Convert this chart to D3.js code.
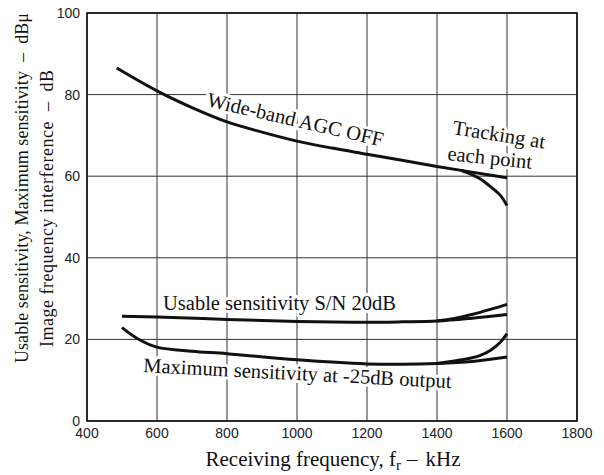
<!DOCTYPE html>
<html>
<head>
<meta charset="utf-8">
<script src="https://cdn.jsdelivr.net/npm/d3@7"></script>
<style>
  body { margin: 0; background: #fff; overflow: hidden; }
  svg { display: block; }
  .tick-label { font-family: "Liberation Sans", Arial, sans-serif; font-size: 14px; fill: #222; }
  .serif { font-family: "Liberation Serif", "Times New Roman", serif; fill: #111; }
  .halo { paint-order: stroke; stroke: #fff; stroke-width: 6px; stroke-linejoin: round; }
</style>
</head>
<body>
<div id="chart"></div>
<script>
const xTicks = [400, 600, 800, 1000, 1200, 1400, 1600, 1800];
const yTicks = [0, 20, 40, 60, 80, 100];

// [frequency kHz, level dB]
const agcOff = [[485, 86.5], [600, 80.9], [700, 76.8], [800, 73.3], [900, 70.8], [1000, 68.6],
    [1100, 66.9], [1200, 65.4], [1300, 63.9], [1400, 62.4], [1500, 61.0], [1600, 59.6]];
const agcTracking = [[1470, 61.4], [1500, 60.4], [1524, 59.3], [1552, 57.5], [1581, 55.3], [1600, 52.8]];
const usable = [[500, 25.7], [600, 25.5], [800, 24.9], [1000, 24.4], [1200, 24.2], [1300, 24.3],
    [1400, 24.5], [1500, 25.2], [1600, 26.1]];
const usableTracking = [[1400, 24.5], [1450, 25.1], [1500, 26.1], [1550, 27.3], [1600, 28.6]];
const maxSens = [[500, 22.9], [550, 19.9], [600, 18.1], [700, 17.1], [800, 16.5], [1000, 15.0],
    [1200, 14.0], [1300, 13.9], [1400, 14.1], [1500, 14.6], [1600, 15.7]];
const maxSensTracking = [[1400, 14.1], [1450, 14.7], [1500, 15.5], [1524, 16.1], [1552, 17.3],
    [1581, 19.3], [1600, 21.4]];

const width = 604, height = 475;
const margin = {left: 87, top: 13, right: 27, bottom: 54};
const innerWidth = width - margin.left - margin.right;
const innerHeight = height - margin.top - margin.bottom;

const svg = d3.select("#chart")
    .append("svg")
    .attr("width", width)
    .attr("height", height)
    .attr("viewBox", `0 0 ${width} ${height}`);

const inner = svg.append("g")
    .attr("transform", `translate(${margin.left},${margin.top})`);

const xScale = d3.scaleLinear().domain([400, 1800]).range([0, innerWidth]);
const yScale = d3.scaleLinear().domain([0, 100]).range([innerHeight, 0]);

// grid
inner.selectAll(".vgrid")
    .data(xTicks)
    .join("line")
    .attr("x1", d => xScale(d)).attr("x2", d => xScale(d))
    .attr("y1", 0).attr("y2", innerHeight)
    .attr("stroke", "#333").attr("stroke-width", 1);

inner.selectAll(".hgrid")
    .data(yTicks)
    .join("line")
    .attr("x1", 0).attr("x2", innerWidth)
    .attr("y1", d => yScale(d)).attr("y2", d => yScale(d))
    .attr("stroke", "#333").attr("stroke-width", 1);

// frame
inner.append("rect")
    .attr("width", innerWidth).attr("height", innerHeight)
    .attr("fill", "none").attr("stroke", "#111").attr("stroke-width", 1.6);

// tick labels
inner.selectAll(".xt")
    .data(xTicks)
    .join("text")
    .attr("class", "tick-label")
    .attr("x", d => xScale(d))
    .attr("y", innerHeight + 17)
    .attr("text-anchor", "middle")
    .text(d => d);

inner.selectAll(".yt")
    .data(yTicks)
    .join("text")
    .attr("class", "tick-label")
    .attr("x", -7)
    .attr("y", d => yScale(d) + 5)
    .attr("text-anchor", "end")
    .text(d => d);

// curve labels (drawn under the curves, white halo breaks the grid)
const label = (txt, x, y, angle) => inner.append("text")
    .attr("class", "serif halo")
    .attr("font-size", "20.5px")
    .attr("transform", `translate(${x},${y}) rotate(${angle})`)
    .text(txt);

label("Wide-band AGC OFF", 119, 93, 13);
label("Tracking at", 365, 121, 9);
label("each point", 360, 147, 6);
label("Usable sensitivity S/N 20dB", 76, 297, 0);
label("Maximum sensitivity at -25dB output", 56, 359, 3);

// curves
const line = d3.line()
    .x(d => xScale(d[0]))
    .y(d => yScale(d[1]))
    .curve(d3.curveCatmullRom);

[agcOff, agcTracking, usable, usableTracking, maxSens, maxSensTracking].forEach(s => {
    inner.append("path")
        .datum(s)
        .attr("d", line)
        .attr("fill", "none")
        .attr("stroke", "#111")
        .attr("stroke-width", 3);
});

// axis titles
const xTitle = svg.append("text")
    .attr("class", "serif")
    .attr("font-size", "21px")
    .attr("x", 333)
    .attr("y", 466)
    .attr("text-anchor", "middle");
xTitle.append("tspan").text("Receiving frequency, f");
xTitle.append("tspan").attr("font-size", "15px").attr("dy", 4).text("r");
xTitle.append("tspan").attr("dy", -4).attr("dx", 6).text("\u2013");
xTitle.append("tspan").attr("dx", 8).text("kHz");

svg.append("text")
    .attr("class", "serif")
    .attr("font-size", "18px")
    .attr("textLength", 350)
    .attr("lengthAdjust", "spacing")
    .attr("transform", "translate(28,363) rotate(-90)")
    .text("Usable sensitivity, Maximum sensitivity \u00a0\u2013\u00a0 dB\u03bc");

svg.append("text")
    .attr("class", "serif")
    .attr("font-size", "18px")
    .attr("textLength", 277)
    .attr("lengthAdjust", "spacing")
    .attr("transform", "translate(53,347) rotate(-90)")
    .text("Image frequency interference \u00a0\u2013\u00a0 dB");
</script>
</body>
</html>
